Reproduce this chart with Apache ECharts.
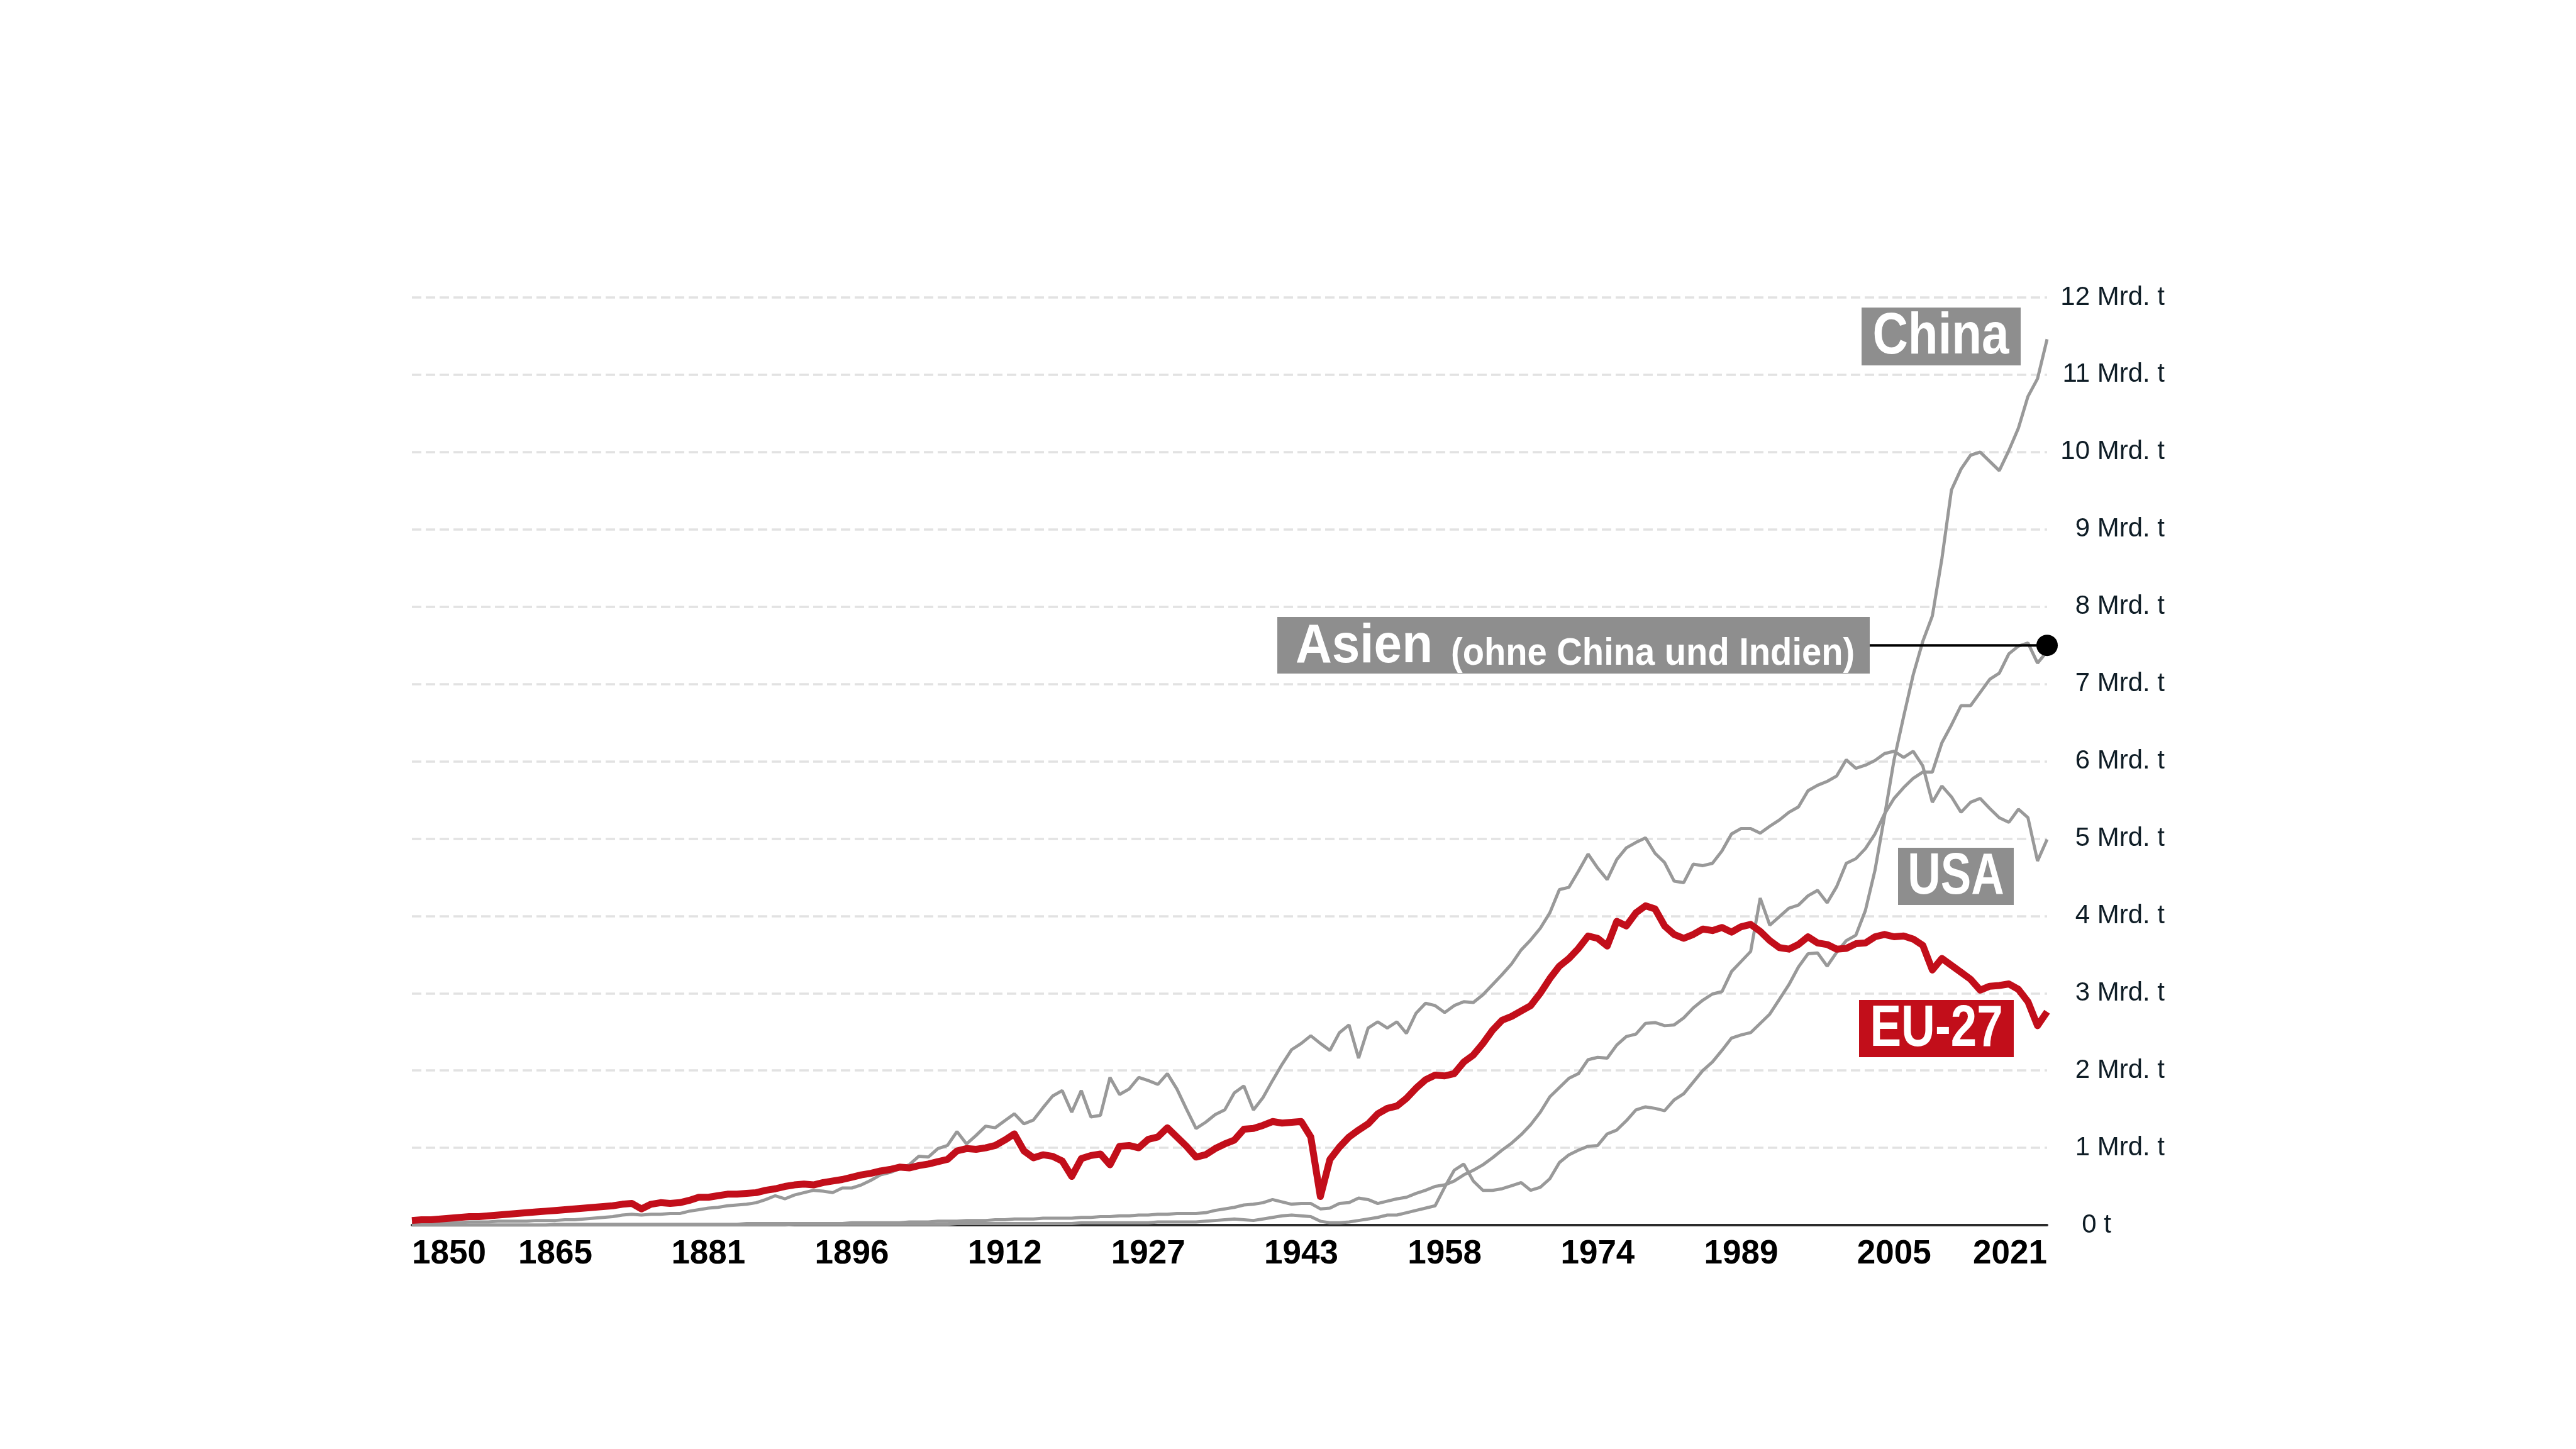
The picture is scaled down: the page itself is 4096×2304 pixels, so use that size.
<!DOCTYPE html>
<html>
<head>
<meta charset="utf-8">
<title>CO2-Emissionen EU-27, USA, China, Asien</title>
<style>
  html, body { margin: 0; padding: 0; background: #fff; }
  #chart { width: 4096px; height: 2304px; }
</style>
</head>
<body>
<div id="chart"></div>
<script src="https://cdn.jsdelivr.net/npm/echarts@6/dist/echarts.min.js"></script>
<script>
// Jahre 1850 - 2021
var years = [];
for (var y = 1850; y <= 2021; y++) years.push(String(y));

// beschriftete Jahre auf der x-Achse
var xTickYears = ['1850', '1865', '1881', '1896', '1912', '1927', '1943', '1958', '1974', '1989', '2005', '2021'];

// y-Achse, Mrd. t
var yTickLabels = ['0 t', '1 Mrd. t', '2 Mrd. t', '3 Mrd. t', '4 Mrd. t', '5 Mrd. t', '6 Mrd. t',
                   '7 Mrd. t', '8 Mrd. t', '9 Mrd. t', '10 Mrd. t', '11 Mrd. t', '12 Mrd. t'];

// CO2-Emissionen in Mrd. t, je Zeile ein Jahrzehnt
var eu27 = [
  0.06,0.07,0.07,0.08,0.09,0.10,0.11,0.11,0.12,0.13,
  0.14,0.15,0.16,0.17,0.18,0.19,0.20,0.21,0.22,0.23,
  0.24,0.25,0.27,0.28,0.21,0.27,0.29,0.28,0.29,0.32,
  0.36,0.36,0.38,0.40,0.40,0.41,0.42,0.45,0.47,0.50,
  0.52,0.53,0.52,0.55,0.57,0.59,0.62,0.65,0.67,0.70,
  0.72,0.75,0.74,0.77,0.79,0.82,0.85,0.96,0.99,0.98,
  1.00,1.03,1.10,1.18,0.96,0.87,0.91,0.89,0.83,0.63,
  0.86,0.90,0.92,0.78,1.02,1.03,1.00,1.11,1.14,1.26,
  1.14,1.02,0.88,0.91,0.99,1.05,1.10,1.24,1.25,1.29,
  1.34,1.32,1.33,1.34,1.14,0.37,0.85,1.01,1.14,1.23,
  1.31,1.44,1.51,1.54,1.64,1.77,1.88,1.94,1.93,1.96,
  2.11,2.20,2.35,2.52,2.65,2.70,2.77,2.84,3.00,3.19,
  3.35,3.45,3.58,3.74,3.71,3.61,3.93,3.87,4.04,4.13,
  4.09,3.87,3.76,3.71,3.76,3.83,3.81,3.85,3.79,3.86,
  3.89,3.80,3.68,3.59,3.57,3.63,3.73,3.65,3.63,3.57,
  3.58,3.64,3.65,3.73,3.76,3.73,3.74,3.70,3.62,3.30,
  3.45,3.36,3.27,3.18,3.04,3.09,3.10,3.12,3.05,2.89,2.58,2.76
];

var usa = [
  0.02,0.02,0.02,0.03,0.03,0.03,0.04,0.04,0.04,0.05,
  0.05,0.05,0.05,0.06,0.06,0.06,0.07,0.07,0.08,0.09,
  0.10,0.11,0.13,0.14,0.13,0.14,0.14,0.15,0.15,0.18,
  0.20,0.22,0.23,0.25,0.26,0.27,0.29,0.33,0.38,0.34,
  0.39,0.42,0.45,0.44,0.42,0.48,0.48,0.52,0.58,0.65,
  0.68,0.73,0.78,0.89,0.88,0.99,1.03,1.21,1.05,1.16,
  1.28,1.26,1.35,1.44,1.31,1.36,1.52,1.67,1.74,1.46,
  1.74,1.40,1.42,1.91,1.69,1.76,1.91,1.87,1.82,1.96,
  1.76,1.50,1.25,1.33,1.43,1.49,1.71,1.80,1.49,1.65,
  1.87,2.08,2.27,2.35,2.45,2.35,2.26,2.49,2.59,2.16,
  2.55,2.63,2.55,2.63,2.48,2.74,2.87,2.84,2.75,2.84,
  2.89,2.88,2.98,3.11,3.24,3.38,3.56,3.69,3.84,4.04,
  4.34,4.37,4.58,4.80,4.62,4.47,4.73,4.88,4.95,5.01,
  4.81,4.69,4.45,4.43,4.67,4.65,4.68,4.84,5.06,5.13,
  5.13,5.07,5.16,5.24,5.34,5.41,5.62,5.69,5.74,5.81,
  6.02,5.91,5.95,6.01,6.10,6.13,6.05,6.13,5.94,5.47,
  5.68,5.54,5.34,5.47,5.52,5.39,5.27,5.21,5.38,5.27,4.71,4.99
];

// Asien ohne China und Indien
var asien = [
  0.00,0.00,0.00,0.00,0.00,0.00,0.00,0.00,0.00,0.00,
  0.00,0.00,0.00,0.00,0.00,0.01,0.01,0.01,0.01,0.01,
  0.01,0.01,0.01,0.01,0.01,0.01,0.01,0.01,0.01,0.01,
  0.01,0.01,0.01,0.01,0.01,0.02,0.02,0.02,0.02,0.02,
  0.02,0.02,0.02,0.02,0.02,0.02,0.03,0.03,0.03,0.03,
  0.03,0.03,0.04,0.04,0.04,0.05,0.05,0.05,0.06,0.06,
  0.06,0.07,0.07,0.08,0.08,0.08,0.09,0.09,0.09,0.09,
  0.10,0.10,0.11,0.11,0.12,0.12,0.13,0.13,0.14,0.14,
  0.15,0.15,0.15,0.16,0.19,0.21,0.23,0.26,0.27,0.29,
  0.33,0.30,0.27,0.28,0.28,0.21,0.22,0.28,0.29,0.35,
  0.33,0.28,0.31,0.34,0.36,0.41,0.45,0.50,0.52,0.57,
  0.65,0.71,0.78,0.87,0.97,1.06,1.17,1.30,1.46,1.66,
  1.78,1.90,1.96,2.14,2.17,2.16,2.33,2.44,2.47,2.61,
  2.62,2.58,2.59,2.68,2.81,2.91,2.99,3.02,3.28,3.41,
  3.54,4.23,3.88,3.99,4.10,4.14,4.26,4.33,4.17,4.38,
  4.68,4.74,4.87,5.06,5.32,5.52,5.66,5.78,5.86,5.86,
  6.24,6.47,6.72,6.72,6.89,7.06,7.14,7.39,7.49,7.53,7.27,7.42
];

var china = [
  0.00,0.00,0.00,0.00,0.00,0.00,0.00,0.00,0.00,0.00,
  0.00,0.00,0.00,0.00,0.00,0.00,0.00,0.00,0.00,0.00,
  0.00,0.00,0.00,0.00,0.00,0.00,0.00,0.00,0.00,0.00,
  0.00,0.00,0.00,0.00,0.00,0.00,0.00,0.00,0.00,0.00,
  0.01,0.01,0.01,0.01,0.01,0.01,0.01,0.01,0.01,0.01,
  0.01,0.01,0.01,0.01,0.01,0.01,0.01,0.02,0.02,0.02,
  0.02,0.02,0.02,0.02,0.02,0.02,0.02,0.02,0.02,0.02,
  0.03,0.03,0.03,0.03,0.03,0.03,0.03,0.03,0.04,0.04,
  0.04,0.04,0.04,0.05,0.06,0.07,0.08,0.07,0.06,0.08,
  0.10,0.12,0.13,0.12,0.11,0.05,0.03,0.03,0.04,0.06,
  0.08,0.10,0.13,0.13,0.16,0.19,0.22,0.25,0.49,0.71,
  0.79,0.57,0.45,0.45,0.47,0.51,0.55,0.45,0.49,0.60,
  0.81,0.91,0.97,1.02,1.03,1.18,1.23,1.35,1.49,1.53,
  1.51,1.48,1.62,1.70,1.85,2.00,2.11,2.26,2.42,2.46,
  2.49,2.61,2.73,2.92,3.11,3.34,3.51,3.52,3.35,3.53,
  3.68,3.75,4.07,4.59,5.29,6.02,6.58,7.12,7.55,7.88,
  8.62,9.51,9.78,9.96,10.00,9.88,9.76,10.02,10.31,10.72,10.95,11.46
];

// Marke am Ende der Asien-Linie (Mrd. t)
var asienMarker = 7.5;

var FONT = '"Liberation Sans", Arial, sans-serif';
var GRAY = '#999999';
var RED = '#c20e1a';
var BOX_GRAY = '#8e8e8e';
var LABEL_COLOR = '#0f1d26';

var chart = echarts.init(document.getElementById('chart'));

var option = {
  animation: false,
  backgroundColor: '#ffffff',
  grid: { left: 655, right: 841, top: 473, bottom: 356 },
  xAxis: {
    type: 'category',
    data: years,
    boundaryGap: false,
    axisLine: { lineStyle: { color: '#2b2b2b', width: 4 } },
    axisTick: { show: false },
    splitLine: { show: false },
    axisLabel: {
      interval: function (i, v) { return xTickYears.indexOf(v) >= 0; },
      margin: 20,
      fontFamily: FONT,
      fontWeight: 'bold',
      fontSize: 53,
      color: '#000000',
      alignMinLabel: 'left',
      alignMaxLabel: 'right'
    }
  },
  yAxis: {
    type: 'value',
    position: 'right',
    min: 0,
    max: 12,
    interval: 1,
    axisLine: { show: false },
    axisTick: { show: false },
    splitLine: { lineStyle: { color: '#e2e2e2', width: 3.5, type: [15, 7] } },
    axisLabel: {
      margin: 187,
      align: 'right',
      fontFamily: FONT,
      fontSize: 42,
      color: LABEL_COLOR,
      formatter: function (v) {
        var t = yTickLabels[Math.round(v)];
        return v === 0 ? '{z|' + t + '}' : t;
      },
      rich: { z: { fontFamily: FONT, fontSize: 42, color: LABEL_COLOR, padding: [0, 85, 0, 0] } }
    }
  },
  series: [
    { name: 'China', type: 'line', data: china, showSymbol: false, silent: true,
      lineStyle: { color: GRAY, width: 5 }, z: 2 },
    { name: 'Asien', type: 'line', data: asien, showSymbol: false, silent: true,
      lineStyle: { color: GRAY, width: 5 }, z: 2 },
    { name: 'USA', type: 'line', data: usa, showSymbol: false, silent: true,
      lineStyle: { color: GRAY, width: 5 }, z: 2 },
    { name: 'EU-27', type: 'line', data: eu27, showSymbol: false, silent: true,
      lineStyle: { color: RED, width: 11, join: 'round' }, z: 3 }
  ]
};
chart.setOption(option);

// Beschriftungskästen
var dot = chart.convertToPixel({ xAxisIndex: 0, yAxisIndex: 0 }, [years.length - 1, asienMarker]);

function box(x, y, w, h, fill) {
  return { type: 'rect', shape: { x: x, y: y, width: w, height: h }, style: { fill: fill }, z: 10 };
}
// schmal gestellte Schrift über scaleX
function label(x, y, text, size, sx, align) {
  return { type: 'text', x: x, y: y, scaleX: sx, z: 11,
    style: { text: text, fill: '#ffffff', font: 'bold ' + size + 'px ' + FONT,
             align: align || 'center', verticalAlign: 'middle' } };
}

chart.setOption({
  graphic: [
    box(2960, 489, 253, 92, BOX_GRAY),
    label(3086, 537, 'China', 92, 0.85),

    { type: 'line', z: 9, shape: { x1: 2973, y1: dot[1], x2: dot[0], y2: dot[1] },
      style: { stroke: '#000000', lineWidth: 4 } },
    { type: 'circle', z: 12, shape: { cx: dot[0], cy: dot[1], r: 17 }, style: { fill: '#000000' } },
    box(2031, 981, 942, 90, BOX_GRAY),
    label(2060, 1029, 'Asien', 88, 0.91, 'left'),
    label(2307, 1040, '(ohne China und Indien)', 61, 0.92, 'left'),

    box(3018, 1348, 184, 91, BOX_GRAY),
    label(3110, 1396, 'USA', 92, 0.79),

    box(2956, 1590, 246, 91, RED),
    label(3079, 1638, 'EU-27', 92, 0.81)
  ]
});
</script>
</body>
</html>
